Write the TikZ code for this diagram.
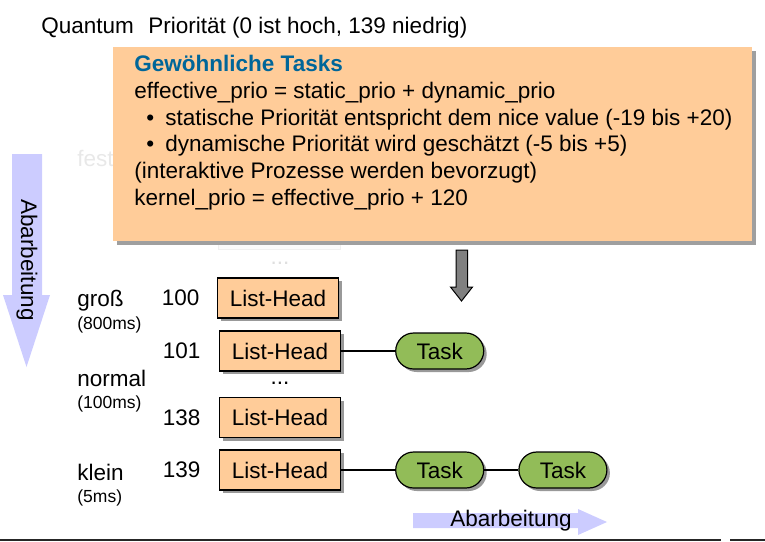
\documentclass[tikz,border=0pt]{standalone}
\usepackage{fontspec}
\setmainfont{Liberation Sans}
\usepackage{tikz}
\usetikzlibrary{positioning}
\usetikzlibrary{shadows}
\definecolor{peach}{RGB}{255,204,153}
\definecolor{taskgreen}{RGB}{146,188,88}
\definecolor{lavender}{RGB}{204,204,255}
\definecolor{headblue}{RGB}{0,102,153}
\tikzstyle{listhead} = [rectangle, draw, fill=peach, line width=0.6pt,
    minimum width=60.5pt, minimum height=20pt, inner sep=0pt,
    drop shadow={shadow xshift=1.5pt, shadow yshift=-1.5pt, fill=gray!80, opacity=1}]
\tikzstyle{task} = [rectangle, draw, fill=taskgreen, rounded corners=9pt, line width=0.6pt,
    minimum width=44pt, minimum height=18pt, inner sep=0pt,
    drop shadow={shadow xshift=1.5pt, shadow yshift=-1.5pt, fill=gray!80, opacity=1}]
\tikzstyle{infobox} = [rectangle, fill=peach, minimum width=319.5pt, minimum height=97pt,
    drop shadow={shadow xshift=2pt, shadow yshift=-2pt, fill=gray!75, opacity=1}]
\tikzstyle{txt} = [inner sep=0pt]
\tikzstyle{small} = [inner sep=0pt, font=\fontsize{8.75}{10}\selectfont]
\tikzstyle{line} = [draw, line width=0.6pt]

\begin{document}
\begin{tikzpicture}[x=0.5pt, y=-0.5pt, font=\fontsize{11.25}{13.35}\selectfont]
        \useasboundingbox (0,0) rectangle (765,541);
        % title
        \node [txt, anchor=base west] (quantum) at (41,33) {Quantum};
        \node [txt, anchor=base west] (prio) at (148,33) {Priorität (0 ist hoch, 139 niedrig)};
        % faded leftovers behind the box
        \node [txt, anchor=base west, text=gray!18] (fest) at (77,166.7) {fest};
        \node [rectangle, draw=gray!12, fill=gray!3, minimum width=61pt, minimum height=20pt] (fadedhead) at (279,229) {};
        \node [txt, anchor=base, text=gray!25] (fadeddots) at (280,264) {...};
        % info box
        \node [infobox] (info) at (432.5,144) {};
        \node [txt, anchor=base west, align=left] (rules) at (134,205.2) {%
            \textbf{\color{headblue}Gewöhnliche Tasks}\\
            effective\_prio = static\_prio + dynamic\_prio\\
            \hspace*{6pt}\textbullet\hspace{5.5pt}statische Priorität entspricht dem nice value (-19 bis +20)\\
            \hspace*{6pt}\textbullet\hspace{5.5pt}dynamische Priorität wird geschätzt (-5 bis +5)\\
            (interaktive Prozesse werden bevorzugt)\\
            kernel\_prio = effective\_prio + 120};
        % processing arrows
        \fill [lavender] (12,154) -- (42,154) -- (42,295) -- (50,295) -- (26.5,367) -- (3,295) -- (12,295) -- cycle;
        \node [txt, rotate=-90] (vabarb) at (27,260) {Abarbeitung};
        \fill [lavender] (413,513) -- (578,513) -- (578,509) -- (607,522) -- (578,535) -- (578,528) -- (413,528) -- cycle;
        \node [txt] (habarb) at (511,521) {Abarbeitung};
        \filldraw [fill=gray, draw=black, line width=0.5pt] (456,250) -- (467.5,250) -- (467.5,287) -- (472.5,287)
            -- (461.5,301) -- (450.5,287) -- (456,287) -- cycle;
        % quantum labels
        \node [txt, anchor=base west] (gross) at (77,306.7) {groß};
        \node [small, anchor=base west] (q800) at (77,329) {(800ms)};
        \node [txt, anchor=base west] (normal) at (77,386) {normal};
        \node [small, anchor=base west] (q100) at (77,408) {(100ms)};
        \node [txt, anchor=base west] (klein) at (77,480) {klein};
        \node [small, anchor=base west] (q5) at (77,502.7) {(5ms)};
        % list heads
        \node [listhead] (lh100) at (278,298) {List-Head};
        \node [listhead] (lh101) at (280,351) {List-Head};
        \node [txt, anchor=base] (dots) at (280,384) {...};
        \node [listhead] (lh138) at (280,417.5) {List-Head};
        \node [listhead] (lh139) at (280,470) {List-Head};
        \node [txt, left=8.5pt of lh100] (n100) {100};
        \node [txt, left=9pt of lh101] (n101) {101};
        \node [txt, left=9pt of lh138] (n138) {138};
        \node [txt, left=9pt of lh139] (n139) {139};
        % tasks
        \node [task, right=27pt of lh101] (t101) {Task};
        \node [task, right=27pt of lh139] (t139a) {Task};
        \node [task, right=17pt of t139a] (t139b) {Task};
        % edges
        \path [line] (lh101) -- (t101);
        \path [line] (lh139) -- (t139a);
        \path [line] (t139a) -- (t139b);
        % rule at the bottom
        \draw [line width=1pt, black!85] (0,540) -- (721,540);
        \draw [line width=1pt, black!85] (730,540) -- (765,540);
    \end{tikzpicture}
\end{document}
